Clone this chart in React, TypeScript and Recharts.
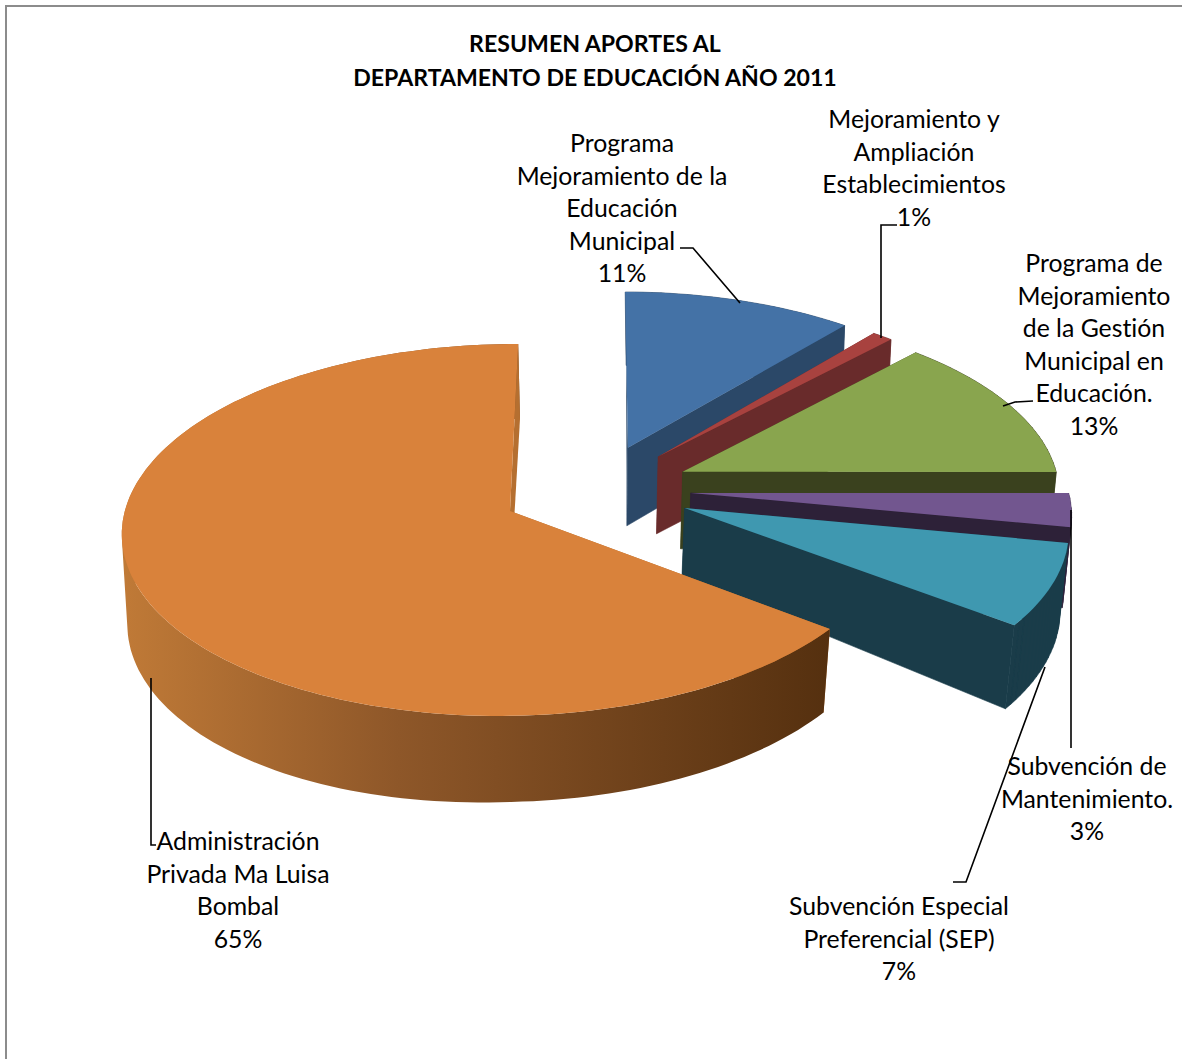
import React from 'react';
import { PieChart, Pie } from 'recharts';

const categories = [
  'Programa Mejoramiento de la Educación Municipal',
  'Mejoramiento y Ampliación Establecimientos',
  'Programa de Mejoramiento de la Gestión Municipal en Educación.',
  'Subvención de Mantenimiento.',
  'Subvención Especial Preferencial (SEP)',
  'Administración Privada Ma Luisa Bombal',
];
const shares = [11, 1, 13, 3, 7.3, 64.7];

const labelLines = [
  ['Programa', 'Mejoramiento de la', 'Educación', 'Municipal'],
  ['Mejoramiento y', 'Ampliación', 'Establecimientos'],
  ['Programa de', 'Mejoramiento', 'de la Gestión', 'Municipal en', 'Educación.'],
  ['Subvención de', 'Mantenimiento.'],
  ['Subvención Especial', 'Preferencial (SEP)'],
  ['Administración', 'Privada Ma Luisa', 'Bombal'],
];

const titleLines = ['RESUMEN APORTES AL', 'DEPARTAMENTO DE EDUCACIÓN AÑO 2011'];

const tableData = categories.map((name, i) => ({ name, value: shares[i] }));

// look of each slice, same order as categories
const topColors = ['#4472a6', '#a8423f', '#89a54e', '#72568f', '#3f98b0', '#d9823b'];
const cutColors = ['#2b4868', '#692b2b', '#3a411e', '#2d2138', '#1a3c49', '#b56f30'];
const wallColors = ['#2b4868', '#692b2b', '#3a411e', '#3b2c4e', '#1a3c49', 'url(#orangeWall)'];
// explosion of each slice on the pie plane, in radii
const explode = [
  [0.31, -0.356],
  [0.391, -0.304],
  [0.455, -0.218],
  [0.4736, -0.0994],
  [0.4557, -0.0164],
  [0, 0],
];
const apexDepth = [78, 77, 77, 77, 68, 80];

// where the labels sit
const labelBoxes = [
  { x: 622, y: 142.5 },
  { x: 914, y: 118.5 },
  { x: 1094, y: 262.5 },
  { x: 1087, y: 765.5 },
  { x: 899, y: 905.5 },
  { x: 238, y: 840.5 },
];
const leaders = [
  '680,248 693,248 740,303',
  '897,225 881,225 881,338',
  '1033,401 1015,402 1003,406',
  '1071,748 1071,510',
  '953,882 966,882 1045,667',
  '156,845 151,845 151,678',
];

const LINE_GAP = 32.5;
const FONT = 'Lato, "Open Sans", sans-serif';

// tilted plane with a bit of perspective
const SQUASH = 0.4792;
const PERSP_Y = 0.102;
const PERSP_X = 0.003;
const SHEAR = -9;

type Pt = { sx: number; sy: number };

const toScreen = (x: number, y: number, r: number): Pt => {
  const w = 1 - PERSP_Y * y + PERSP_X * x;
  return { sx: (r * x + SHEAR * y) / w, sy: (r * SQUASH * y) / w };
};

const sink = (p: Pt, depth?: number): Pt => {
  const d = depth ?? 80 + 0.03 * p.sy + 0.02 * Math.max(0, -p.sx);
  return { sx: p.sx - 0.015 * p.sx - 0.012 * p.sy, sy: p.sy + d };
};

const toPath = (pts: Pt[], cx: number, cy: number) =>
  'M' + pts.map((p) => `${(cx + p.sx).toFixed(1)},${(cy + p.sy).toFixed(1)}`).join('L') + 'Z';

// same winding for every quad, or the overlapping ones cancel where the rim folds
const wound = (pts: Pt[]) => {
  let area = 0;
  pts.forEach((p, k) => {
    const q = pts[(k + 1) % pts.length];
    area += p.sx * q.sy - q.sx * p.sy;
  });
  return area < 0 ? pts.slice().reverse() : pts;
};

const Slice3D = (props: any) => {
  const { cx, cy, outerRadius, startAngle, endAngle, name } = props;
  const i = categories.indexOf(name);
  const [ex, ey] = explode[i];
  const rim: Pt[] = [];
  const steps = Math.max(4, Math.round(Math.abs(endAngle - startAngle) / 1.5));
  for (let k = 0; k <= steps; k++) {
    const a = ((startAngle + ((endAngle - startAngle) * k) / steps) * Math.PI) / 180;
    rim.push(toScreen(ex + Math.cos(a), ey - Math.sin(a), outerRadius));
  }
  const apex = toScreen(ex, ey, outerRadius);
  const apexLow = sink(apex, apexDepth[i]);
  const rimLow = rim.map((p) => sink(p));
  const first = rim[0];
  const last = rim[rim.length - 1];
  const wall = rim
    .slice(1)
    .map((p, k) => toPath(wound([rim[k], p, rimLow[k + 1], rimLow[k]]), cx, cy))
    .join('');
  const edge = i === 5 ? 'none' : wallColors[i];
  return (
    <g>
      <defs>
        <linearGradient id="orangeWall" x1="0" y1="0" x2="1" y2="0">
          <stop offset="0%" stopColor="#c07a37" />
          <stop offset="39%" stopColor="#8e5729" />
          <stop offset="100%" stopColor="#55300f" />
        </linearGradient>
      </defs>
      <path d={toPath([apex, first, rimLow[0], apexLow], cx, cy)} fill={cutColors[i]} />
      <path d={wall} fill={wallColors[i]} stroke={edge} strokeWidth={0.6} />
      <path
        d={toPath([apex, last, rimLow[rimLow.length - 1], apexLow], cx, cy)}
        fill={cutColors[i]}
        stroke={i === 5 ? 'none' : cutColors[i]}
        strokeWidth={0.6}
      />
      <path d={toPath([apex, ...rim], cx, cy)} fill={topColors[i]} />
    </g>
  );
};

const SliceLabel = (props: any) => {
  const i = props.index;
  const box = labelBoxes[i];
  const lines = [...labelLines[i], `${Math.round(props.percent * 100)}%`];
  return (
    <g>
      <polyline points={leaders[i]} fill="none" stroke="#000" strokeWidth={1.6} />
      {lines.map((t, k) => (
        <text
          key={k}
          x={box.x}
          y={box.y + k * LINE_GAP}
          textAnchor="middle"
          dominantBaseline="central"
          fontFamily={FONT}
          fontSize={24.8}
          fill="#000"
          style={{ fontVariantLigatures: 'none' }}
        >
          {t}
        </text>
      ))}
    </g>
  );
};

export default function App() {
  return (
    <div style={{ position: 'absolute', left: 0, top: 0, width: 1182, height: 1059, overflow: 'hidden', background: '#fff' }}>
      <div
        style={{
          position: 'absolute',
          left: 5,
          top: 5,
          right: 0,
          bottom: 0,
          borderLeft: '2px solid #8c8c8c',
          borderTop: '2px solid #8c8c8c',
        }}
      />
      <PieChart width={1182} height={1059} margin={{ top: 0, right: 0, bottom: 0, left: 0 }} style={{ position: 'absolute' }}>
        <Pie
          data={tableData}
          dataKey="value"
          nameKey="name"
          cx={510}
          cy={511}
          innerRadius={0}
          outerRadius={384}
          startAngle={90}
          endAngle={-270}
          stroke="none"
          shape={Slice3D}
          label={SliceLabel}
          labelLine={false}
          isAnimationActive={false}
        />
        {titleLines.map((t, k) => (
          <text
            key={t}
            x={595}
            y={43 + k * 33.5}
            textAnchor="middle"
            dominantBaseline="central"
            fontFamily={FONT}
            fontWeight={700}
            fontSize={23.1}
            fill="#000"
            style={{ fontVariantLigatures: 'none' }}
          >
            {t}
          </text>
        ))}
      </PieChart>
    </div>
  );
}
